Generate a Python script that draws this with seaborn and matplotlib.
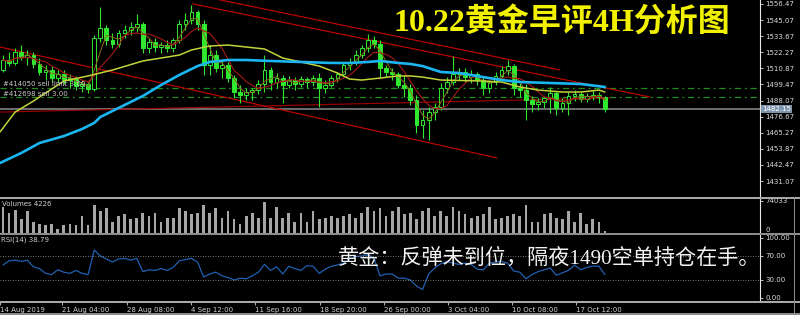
import matplotlib
matplotlib.use("Agg")
import matplotlib.pyplot as plt
import numpy as np
import pandas as pd
import seaborn as sns
from matplotlib.patches import Rectangle

# ---------------- data ----------------
bar_open = [1509.7, 1516.8, 1514.7, 1522.5, 1518.9, 1520.3, 1514.0, 1508.3, 1509.7, 1504.0,
            1506.9, 1502.6, 1504.0, 1498.4, 1499.8, 1496.2, 1532.4, 1539.5, 1531.0, 1528.1,
            1535.9, 1538.0, 1540.2, 1542.3, 1525.3, 1529.5, 1526.0, 1527.4, 1525.3, 1531.0,
            1542.3, 1545.1, 1550.8, 1542.3, 1513.3, 1520.3, 1511.1, 1513.3, 1504.0, 1494.1,
            1492.0, 1494.1, 1495.5, 1499.8, 1509.7, 1501.2, 1504.0, 1499.1, 1502.6, 1499.8,
            1503.3, 1501.2, 1504.0, 1497.0, 1499.1, 1504.0, 1506.9, 1513.3, 1515.4, 1520.3,
            1525.3, 1531.0, 1528.1, 1511.1, 1508.3, 1506.9, 1499.1, 1497.0, 1488.4, 1470.7,
            1474.3, 1479.9, 1483.5, 1497.0, 1501.2, 1506.9, 1508.3, 1504.7, 1506.9, 1502.6,
            1497.0, 1501.2, 1505.5, 1509.7, 1512.5, 1497.0, 1495.5, 1488.4, 1485.6, 1487.0,
            1489.9, 1493.4, 1482.8, 1486.3, 1491.3, 1492.7, 1489.2, 1491.3, 1492.0, 1490.6]
bar_close = [1516.8, 1514.7, 1522.5, 1518.9, 1520.3, 1514.0, 1508.3, 1509.7, 1504.0, 1506.9,
             1502.6, 1504.0, 1498.4, 1499.8, 1496.2, 1532.4, 1539.5, 1531.0, 1528.1, 1535.9,
             1538.0, 1540.2, 1542.3, 1525.3, 1529.5, 1526.0, 1527.4, 1525.3, 1531.0, 1542.3,
             1545.1, 1550.8, 1542.3, 1513.3, 1520.3, 1511.1, 1513.3, 1504.0, 1494.1, 1492.0,
             1494.1, 1495.5, 1499.8, 1509.7, 1501.2, 1504.0, 1499.1, 1502.6, 1499.8, 1503.3,
             1501.2, 1504.0, 1497.0, 1499.1, 1504.0, 1506.9, 1513.3, 1515.4, 1520.3, 1525.3,
             1531.0, 1528.1, 1511.1, 1508.3, 1506.9, 1499.1, 1497.0, 1488.4, 1470.7, 1474.3,
             1479.9, 1483.5, 1497.0, 1501.2, 1506.9, 1508.3, 1504.7, 1506.9, 1502.6, 1497.0,
             1501.2, 1505.5, 1509.7, 1512.5, 1497.0, 1495.5, 1488.4, 1485.6, 1487.0, 1489.9,
             1493.4, 1482.8, 1486.3, 1491.3, 1492.7, 1489.2, 1491.3, 1492.0, 1490.6, 1482.15]
bar_high = [1520.3, 1522.5, 1525.3, 1527.4, 1523.9, 1522.5, 1518.2, 1513.3, 1512.5, 1509.7,
            1509.7, 1506.9, 1505.5, 1502.6, 1501.2, 1534.5, 1554.3, 1541.6, 1535.9, 1538.0,
            1541.6, 1543.7, 1549.4, 1543.7, 1532.4, 1532.4, 1529.5, 1531.0, 1532.4, 1545.1,
            1550.1, 1555.8, 1552.2, 1545.1, 1527.4, 1523.9, 1516.8, 1515.4, 1506.2, 1499.1,
            1497.0, 1497.0, 1502.6, 1520.3, 1511.8, 1507.6, 1506.2, 1505.5, 1504.7, 1505.5,
            1504.7, 1506.2, 1507.6, 1502.6, 1506.2, 1508.3, 1515.4, 1518.2, 1523.9, 1527.4,
            1535.2, 1533.8, 1531.0, 1513.3, 1511.1, 1508.3, 1506.2, 1499.8, 1492.0, 1481.4,
            1483.5, 1486.3, 1500.5, 1504.7, 1519.6, 1511.1, 1511.1, 1509.7, 1508.3, 1505.5,
            1502.6, 1508.3, 1512.5, 1516.8, 1514.0, 1500.5, 1499.8, 1491.3, 1489.9, 1491.3,
            1497.7, 1494.1, 1489.9, 1494.1, 1495.5, 1494.1, 1493.4, 1495.5, 1494.1, 1491.3]
bar_low = [1508.3, 1512.5, 1513.3, 1516.8, 1513.3, 1511.1, 1506.2, 1502.6, 1501.2, 1501.2,
           1499.8, 1497.0, 1495.5, 1494.1, 1493.4, 1494.8, 1529.5, 1527.4, 1525.3, 1526.0,
           1532.4, 1534.5, 1536.6, 1521.8, 1521.8, 1522.5, 1521.8, 1522.5, 1522.5, 1528.8,
           1538.0, 1542.3, 1538.0, 1506.2, 1506.2, 1508.3, 1504.0, 1501.2, 1489.9, 1486.3,
           1488.4, 1488.4, 1492.7, 1494.1, 1495.5, 1497.0, 1486.3, 1497.0, 1495.5, 1497.7,
           1497.0, 1498.4, 1483.5, 1493.4, 1497.7, 1501.2, 1505.5, 1509.7, 1513.3, 1518.2,
           1522.5, 1525.3, 1504.7, 1504.7, 1502.6, 1497.0, 1490.6, 1484.9, 1465.1, 1461.5,
           1460.1, 1474.3, 1481.4, 1493.4, 1499.1, 1502.6, 1501.2, 1500.5, 1499.1, 1492.0,
           1493.4, 1499.1, 1502.6, 1506.2, 1492.0, 1490.6, 1474.3, 1479.9, 1481.4, 1482.8,
           1479.2, 1477.8, 1479.9, 1477.8, 1487.7, 1487.0, 1487.0, 1488.4, 1486.3, 1479.9]
volumes = [58700, 46000, 52000, 30600, 51100, 25500, 20400, 17900, 20400, 7700,
           17900, 20400, 17900, 38300, 17900, 63800, 51100, 56200, 25500, 38300,
           43400, 30600, 33200, 46000, 38300, 46000, 25500, 33200, 33200, 56200,
           51100, 43400, 46000, 63800, 46000, 56200, 33200, 51100, 30600, 20400,
           38300, 46000, 33200, 71500, 33200, 58700, 33200, 46000, 25500, 46000,
           25500, 51100, 30600, 33200, 38300, 33200, 38300, 43400, 33200, 46000,
           58700, 51100, 56200, 38300, 51100, 58700, 43400, 46000, 30600, 51100,
           56200, 38300, 51100, 38300, 58700, 51100, 43400, 33200, 38300, 43400,
           58700, 30600, 33200, 38300, 43400, 38300, 63800, 25500, 25500, 43400,
           46000, 33200, 30600, 51100, 25500, 46000, 20400, 30600, 25500, 4226]
rsi_values = [55, 62, 63, 61, 63, 52, 49, 41, 39, 47,
              43, 41, 46, 41, 39, 80, 70, 65, 60, 65,
              66, 63, 66, 44, 47, 46, 49, 46, 51, 62,
              64, 66, 60, 35, 40, 43, 37, 34, 30, 33,
              32, 37, 43, 56, 46, 52, 40, 53, 49, 46,
              54, 53, 41, 48, 53, 55, 58, 66, 69, 70,
              72, 67, 37, 40, 40, 33, 33, 30, 20, 14,
              40, 50, 57, 61, 58, 56, 58, 56, 48, 47,
              58, 60, 61, 58, 45, 43, 32, 39, 44, 47,
              50, 38, 42, 46, 55, 47, 51, 53, 53, 38.79]

cyan_idx = [-0.5, 3, 6, 10, 13, 15, 16, 19, 23, 26, 29, 32, 34, 37, 40, 44, 49, 54, 57, 60,
            62, 65, 67, 69, 72, 75, 79, 82, 85, 90, 95, 99]
cyan_ma = [1443.8, 1450.9, 1458.0, 1462.9, 1467.9, 1472.2, 1476.4, 1482.8, 1491.3, 1499.1,
           1506.2, 1512.5, 1515.4, 1516.8, 1516.8, 1516.1, 1515.4, 1514.7, 1514.7, 1515.4,
           1516.1, 1514.7, 1514.0, 1512.5, 1508.3, 1507.6, 1504.7, 1502.6, 1501.2, 1500.5,
           1499.8, 1497.7]
yellow_idx = [-0.5, 2, 5, 10, 14, 18, 23, 26, 29, 31, 34, 37, 40, 43, 46, 49, 52, 55, 57, 59,
              62, 65, 67, 69, 72, 79, 82, 85, 88, 92, 95, 98, 99]
yellow_ma = [1465.8, 1479.9, 1487.7, 1501.9, 1505.5, 1509.7, 1516.1, 1518.2, 1520.3, 1523.9,
             1526.7, 1527.4, 1526.0, 1524.6, 1518.2, 1515.4, 1512.5, 1507.6, 1503.3, 1502.6,
             1504.0, 1505.5, 1505.5, 1504.7, 1502.6, 1501.9, 1501.2, 1497.7, 1495.5, 1494.1,
             1494.1, 1495.5, 1494.1]

trend_start_idx = [-0.49, 31.25, 32.4, -0.49]
trend_start_price = [1526.0, 1556.5, 1562.3, 1479.9]
trend_end_idx = [81.25, 106.4, 91.6, 99.8]
trend_end_price = [1447.4, 1490.6, 1509.7, 1489.9]

price_ticks = [1556.47, 1545.07, 1533.67, 1522.27, 1510.87, 1499.47, 1488.07,
               1476.67, 1465.27, 1453.87, 1442.47, 1431.07]
date_labels = ['14 Aug 2019', '21 Aug 04:00', '28 Aug 08:00', '4 Sep 12:00', '11 Sep 16:00',
               '18 Sep 20:00', '26 Sep 00:00', '3 Oct 04:00', '10 Oct 08:00', '17 Oct 12:00']
date_pos = [-0.45, 9.7, 20.39, 30.92, 41.45, 52.14, 62.66, 73.19, 83.72, 94.24]

sell_limit_price = 1497.0
sell_price = 1490.6
last_price = 1482.15
vol_max_label = 74033
order_labels = ['#414050 sell limit 3.00', '#412698 sell 3.00']
title_text = '10.22黄金早评4H分析图'
note_text = '黄金：反弹未到位，隔夜1490空单持仓在手。'

# ---------------- style ----------------
sns.set_theme(style='dark', rc={'axes.facecolor': 'black', 'figure.facecolor': 'black',
                                'axes.grid': False})
plt.rcParams['font.family'] = ['DejaVu Sans', 'Noto Sans CJK SC']

W, H = 800, 315
fig = plt.figure(figsize=(W / 100, H / 100), dpi=100, facecolor='black')


def panel(y0, y1):
    return fig.add_axes([0, 1 - y1 / H, 760 / W, (y1 - y0) / H])


ax = panel(0, 196.5)
axv = panel(198.5, 232.8)
axr = panel(234.8, 301)

df = pd.DataFrame({'o': bar_open, 'h': bar_high, 'l': bar_low, 'c': bar_close,
                   'v': volumes, 'rsi': rsi_values})
df['i'] = np.arange(len(df))
green = '#2fe82f'

# trend lines & horizontal levels
for x0, y0, x1, y1, col in zip(trend_start_idx, trend_start_price, trend_end_idx,
                                trend_end_price, ['#c00000', '#c00000', '#c00000', '#9a0000']):
    ax.plot([x0, x1], [y0, y1], color=col, lw=0.85, zorder=2)
ax.axhline(last_price, color='#6e6e6e', lw=1.4, zorder=1.5)
for lvl in (sell_limit_price, sell_price):
    ax.axhline(lvl, color='#1e8f1e', lw=0.9, ls=(0, (5, 3, 1.5, 3)), zorder=1.6)

# candles
ax.vlines(df['i'], df['l'], df['h'], color=green, lw=0.8, zorder=3)
up = df['c'] >= df['o']
bottom = np.minimum(df['o'], df['c'])
height = np.maximum((df['c'] - df['o']).abs(), 0.3)
ax.bar(df['i'][up], height[up], bottom=bottom[up], width=0.62, color='black',
       edgecolor=green, linewidth=0.7, zorder=4)
ax.bar(df['i'][~up], height[~up], bottom=bottom[~up], width=0.62, color=green,
       edgecolor=green, linewidth=0.7, zorder=4)

# moving averages
ma_fast = df['c'].rolling(3, min_periods=1).mean()
ma_mid = df['c'].rolling(6, min_periods=1).mean()
sns.lineplot(x=df['i'], y=ma_fast, ax=ax, color='#8a6a1c', linewidth=0.7, zorder=5)
sns.lineplot(x=df['i'], y=ma_mid, ax=ax, color='#a81818', linewidth=0.8, zorder=5)
sns.lineplot(x=yellow_idx, y=yellow_ma, ax=ax, color='#c3d43a', linewidth=1.1, zorder=6)
sns.lineplot(x=cyan_idx, y=cyan_ma, ax=ax, color='#1bb6f2', linewidth=1.9, zorder=7)

# volume
axv.bar(df['i'], df['v'], width=0.45, color='#a6a6a6', linewidth=0)

# RSI
sns.lineplot(x=df['i'], y=df['rsi'], ax=axr, color='#2060b0', linewidth=0.9)
for lvl in (70, 30):
    axr.axhline(lvl, color='#9a9a9a', lw=0.6, ls=(0, (1, 2)))

XL = (-0.493, 124.5)
for a in (ax, axv, axr):
    a.set_facecolor('black')
    for s in ('left', 'top', 'bottom'):
        a.spines[s].set_visible(False)
    a.spines['right'].set_color('#e6e6e6')
    a.spines['right'].set_linewidth(0.8)
    a.yaxis.tick_right()
    a.tick_params(axis='y', colors='#dcdcdc', labelsize=5, length=2.5, width=0.6, pad=1.5)
    a.tick_params(axis='x', bottom=False, labelbottom=False)
    a.set_xlim(*XL)
    a.set_xlabel('')
    a.set_ylabel('')
    a.grid(False)

ax.set_ylim(1420.1, 1559.3)
ax.set_yticks(price_ticks)
ax.set_yticklabels([f'{p:.2f}' for p in price_ticks])

axv.set_ylim(0, 78660)
axv.set_yticks([0, vol_max_label])
axv.set_yticklabels(['0', str(vol_max_label)])
axv.get_yticklabels()[0].set_va('bottom')

axr.set_ylim(-5, 105.3)
axr.set_yticks([0, 30, 70, 100])
axr.set_yticklabels(['0.00', '30.00', '70.00', '100.00'])
axr.set_xticks(date_pos)
axr.set_xticklabels(date_labels)
axr.tick_params(axis='x', bottom=True, labelbottom=True, colors='#d2d2d2', labelsize=5,
                length=3, width=0.6, pad=1.5, direction='out')
for t in axr.get_xticklabels():
    t.set_ha('left')


def fx(x):
    return x / W


def fy(y):
    return 1 - y / H


# separators
for y0, y1, col in [(196.5, 198.5, '#a8a8a8'), (232.8, 234.8, '#8c8c8c'),
                    (301, 302.6, '#a8a8a8'), (313, 314.6, '#8a8a8a')]:
    fig.add_artist(Rectangle((0, fy(y1)), 1, (y1 - y0) / H, transform=fig.transFigure,
                             color=col, lw=0, zorder=10))
fig.add_artist(Rectangle((fx(793.5), 0), 1.5 / W, fy(196.5), transform=fig.transFigure,
                         color='#8a8a8a', lw=0, zorder=10))

# texts
fig.text(fx(3), fy(84.5), order_labels[0], size=5, color='#c8c8c8', va='center')
fig.text(fx(3), fy(94.5), order_labels[1], size=5, color='#c8c8c8', va='center')
fig.text(fx(2), fy(204), f'Volumes {volumes[-1]}', size=5, color='#d0d0d0', va='center')
fig.text(fx(1), fy(240), f'RSI(14) {rsi_values[-1]:.2f}', size=5, color='#d0d0d0', va='center')
fig.text(fx(762), fy(109), f'{last_price:.2f}', size=5, color='white', va='center', ha='left',
         bbox=dict(boxstyle='square,pad=0.15', fc='#7f95ad', ec='none'), zorder=11)
fig.text(fx(393), fy(32), title_text, family=['Liberation Serif', 'Noto Sans CJK SC'],
         size=23, weight='bold', color='#f2f200', ha='left', va='baseline')
fig.text(fx(338), fy(265), note_text, family=['Liberation Serif', 'Noto Sans CJK SC'],
         size=15.2, color='#f2f2f2', ha='left', va='baseline')

fig.savefig('out.png', dpi=100, facecolor='black')
